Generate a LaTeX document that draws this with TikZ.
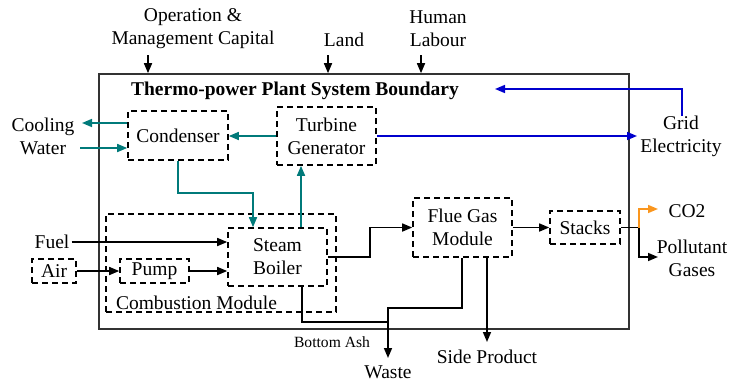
\documentclass[tikz,border=0pt]{standalone}
\usepackage{fontspec}
\setmainfont{Liberation Serif}
\usetikzlibrary{arrows.meta}
\newcommand\myfs{\fontsize{19.5}{23}\selectfont}
\newcommand\mysmall{\fontsize{15.6}{18}\selectfont}
\definecolor{tealc}{RGB}{0,122,122}
\definecolor{bluec}{RGB}{0,0,205}
\definecolor{orangec}{RGB}{250,150,30}
\begin{document}
\begin{tikzpicture}[x=1pt,y=-1pt,
  lbl/.style={font=\myfs, inner sep=0pt, align=center},
  dbox/.style={draw, line width=1.6pt, dash pattern=on 6pt off 4pt, font=\myfs, align=center, inner sep=0pt},
  conn/.style={line width=1.6pt, -{Triangle[length=10pt,width=8pt]}},
  plain/.style={line width=1.6pt}]
\useasboundingbox (0,0) rectangle (729,383);
% boundary
\node[draw, line width=1.6pt, color=black!80, minimum width=530pt, minimum height=255pt, inner sep=0pt] (bnd) at (364,201.5) {};
\node[lbl, font=\myfs\bfseries] (title) at (295,91) {Thermo-power Plant System Boundary};
% top labels
\node[lbl] (oplab) at (193,28.5) {Operation \&\\Management Capital};
\node[lbl] (land) at (344,40) {Land};
\node[lbl] (human) at (438,28.5) {Human\\Labour};
\coordinate (opa) at (148,55);
\coordinate (lana) at (328,55);
\coordinate (huma) at (421,55);
\draw[conn] (opa) -- (opa |- bnd.north);
\draw[conn] (lana) -- (lana |- bnd.north);
\draw[conn] (huma) -- (huma |- bnd.north);
% boxes
\node[dbox, minimum width=100pt, minimum height=49pt] (cond) at (178,135.5) {Condenser};
\node[dbox, minimum width=99pt, minimum height=58pt] (turb) at (326.5,136) {Turbine\\Generator};
\node[dbox, minimum width=230pt, minimum height=98pt] (comb) at (221,263) {};
\node[lbl] (comblab) at (196.5,303) {Combustion Module};
\node[dbox, minimum width=99pt, minimum height=58pt] (boil) at (277.5,257) {Steam\\Boiler};
\node[dbox, minimum width=44pt, minimum height=24pt] (air) at (54,271) {Air};
\node[dbox, minimum width=69pt, minimum height=24pt] (pump) at (154.5,271) {Pump};
\node[dbox, minimum width=99pt, minimum height=59pt] (flue) at (462.5,227.5) {Flue Gas\\Module};
\node[dbox, minimum width=70pt, minimum height=33pt] (stack) at (585,227.5) {Stacks};
% outside labels
\node[lbl] (cool) at (43,136.5) {Cooling\\Water};
\node[lbl] (grid) at (681,136.5) {Grid\\Electricity};
\node[lbl, inner sep=2pt] (fuel) at (52,242) {Fuel};
\node[lbl] (co2) at (687,211) {CO2};
\node[lbl] (pol) at (692,258.5) {Pollutant\\Gases};
\node[lbl, font=\mysmall] (ash) at (332,342) {Bottom Ash};
\node[lbl] (waste) at (388,372.5) {Waste};
\node[lbl] (side) at (487,357) {Side Product};
% teal connectors
\coordinate (cw1) at (82,123);
\coordinate (cw2) at (80,148);
\draw[conn, tealc] (turb.west) -- (turb.west -| cond.east);
\draw[conn, tealc] (cond.west |- cw1) -- (cw1);
\draw[conn, tealc] (cw2) -- (cw2 -| cond.west);
\coordinate (cb) at (253,193);
\draw[conn, tealc] (cond.south) |- (cb) -- (cb |- boil.north);
\coordinate (bt) at (301,200);
\draw[conn, tealc] (bt |- boil.north) -- (bt |- turb.south);
% blue connectors
\coordinate (gin) at (637,136);
\draw[conn, bluec] (turb.east) -- (gin);
\coordinate (gb) at (682,89);
\coordinate (gbe) at (495,89);
\draw[conn, bluec] (gb |- grid.north) -- (gb) -- (gbe);
% black flows
\draw[conn] (fuel.east) -- (fuel.east -| boil.west);
\draw[conn] (air.east) -- (pump.west);
\draw[conn] (pump.east) -- (pump.east -| boil.west);
\coordinate (bf) at (370,240);
\draw[conn] (boil.east) -| (bf |- flue.west) -- (flue.west);
\draw[conn] (flue.east) -- (stack.west);
\coordinate (sj) at (639,227.5);
\coordinate (pa) at (658,257);
\coordinate (ca) at (658,209);
\draw[conn] (stack.east) -- (sj) |- (pa);
\draw[conn, orangec] (sj) |- (ca);
% waste / side product
\coordinate (ba) at (302,322);
\coordinate (wj) at (388,322);
\coordinate (fw) at (462,308);
\coordinate (wa) at (388,358);
\coordinate (sp) at (487,342);
\draw[plain] (ba |- boil.south) -- (ba) -- (wj);
\draw[conn] (fw |- flue.south) -- (fw) -| (wa);
\draw[conn] (sp |- flue.south) -- (sp);
\end{tikzpicture}
\end{document}
